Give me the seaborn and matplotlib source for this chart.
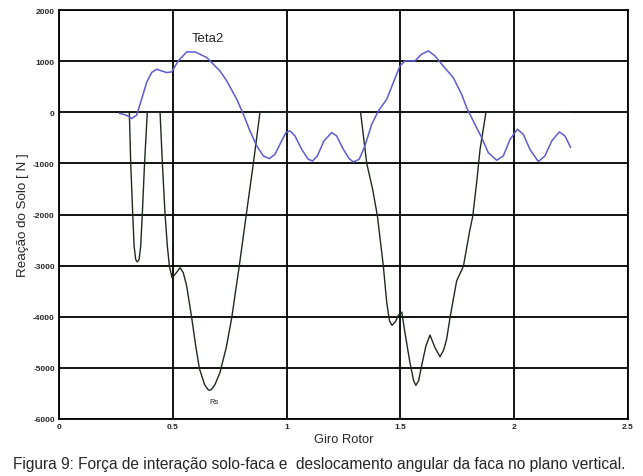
import numpy as np
import pandas as pd
import matplotlib
matplotlib.use("Agg")
import matplotlib.pyplot as plt
import seaborn as sns

# Rs curve (soil reaction)
rs_x = [0.27, 0.309, 0.315, 0.324, 0.330, 0.337, 0.344, 0.352, 0.359, 0.366,
        0.376, 0.388, 0.444, 0.454, 0.466, 0.476, 0.485, 0.4965, 0.510, 0.532,
        0.546, 0.561, 0.583, 0.600, 0.617, 0.640, 0.655, 0.663, 0.672, 0.685,
        0.707, 0.735, 0.759, 0.792, 0.822, 0.854, 0.883, 1.325, 1.352, 1.378,
        1.399, 1.425, 1.440, 1.452, 1.463, 1.478, 1.491, 1.506, 1.520, 1.542,
        1.558, 1.568, 1.580, 1.593, 1.612, 1.630, 1.652, 1.674, 1.690, 1.703,
        1.718, 1.747, 1.777, 1.803, 1.818, 1.835, 1.850, 1.876, 2.25]
rs_y = [0, 0, -985, -1996, -2616, -2880, -2929, -2880, -2616, -1996,
        -985, 0, 0, -985, -1996, -2616, -3008, -3236, -3171, -3041,
        -3138, -3399, -4018, -4550, -5016, -5330, -5425, -5440, -5410, -5330,
        -5094, -4600, -4018, -3008, -2029, -998, 0, 0, -998, -1507,
        -2029, -3008, -3725, -4080, -4168, -4100, -3973, -3908, -4312, -4899,
        -5250, -5342, -5250, -4964, -4573, -4358, -4605, -4781, -4650, -4442,
        -4018, -3301, -3008, -2355, -2029, -1376, -724, 0, 0]

# Teta2 curve (angular displacement, scaled)
teta_x = [0.265, 0.297, 0.319, 0.341, 0.363, 0.385, 0.407, 0.429, 0.451, 0.473,
          0.495, 0.524, 0.561, 0.598, 0.649, 0.707, 0.737, 0.781, 0.810, 0.839,
          0.869, 0.898, 0.924, 0.949, 0.978, 0.997, 1.015, 1.037, 1.066, 1.095,
          1.114, 1.135, 1.164, 1.198, 1.220, 1.249, 1.275, 1.293, 1.319, 1.344,
          1.374, 1.403, 1.440, 1.469, 1.498, 1.520, 1.564, 1.593, 1.623, 1.652,
          1.688, 1.732, 1.769, 1.791, 1.820, 1.857, 1.886, 1.923, 1.952, 1.982,
          2.014, 2.040, 2.069, 2.106, 2.135, 2.165, 2.198, 2.223, 2.248]
teta_y = [-20, -59, -124, -59, 254, 581, 777, 841, 808, 777,
          789, 1004, 1180, 1180, 1070, 808, 613, 254, -39, -365,
          -659, -855, -907, -822, -561, -398, -365, -463, -724, -920,
          -952, -855, -561, -398, -463, -724, -907, -972, -920, -659,
          -235, 25, 254, 581, 906, 1004, 1004, 1135, 1200, 1102,
          906, 679, 352, 92, -170, -496, -789, -939, -855, -528,
          -333, -431, -724, -965, -855, -561, -385, -463, -691]

x_ticks = [0, 0.5, 1, 1.5, 2, 2.5]
y_ticks = [2000, 1000, 0, -1000, -2000, -3000, -4000, -5000, -6000]

sns.set_style("white")
plt.rcParams['font.family'] = ['Liberation Sans', 'DejaVu Sans']

fig = plt.figure(figsize=(6.43, 4.77), dpi=100)
ax = fig.add_axes([59 / 643, 1 - 420 / 477, 569 / 643, 409 / 477])

rs = pd.DataFrame({'x': rs_x, 'y': rs_y})
teta = pd.DataFrame({'x': teta_x, 'y': teta_y})

sns.lineplot(data=rs, x='x', y='y', sort=False, color='#1e2a1e', lw=1.0, ax=ax, zorder=3)
sns.lineplot(data=teta, x='x', y='y', sort=False, color='#5c5cd0', lw=1.1, ax=ax, zorder=4)

ax.set_xlim(0, 2.5)
ax.set_ylim(-6000, 2000)
ax.set_xticks(x_ticks)
ax.set_xticklabels([f"{t:g}" for t in x_ticks])
ax.set_yticks(y_ticks)
ax.set_yticklabels([str(t) for t in y_ticks])
ax.tick_params(axis='both', length=0, labelsize=6, pad=3)
for lab in ax.get_xticklabels() + ax.get_yticklabels():
    lab.set_fontweight('bold')
ax.grid(True, color='black', lw=1.3)
ax.set_axisbelow(True)
for s in ax.spines.values():
    s.set_color('black')
    s.set_linewidth(1.3)

ax.set_xlabel('Giro Rotor', fontsize=9.3, labelpad=2)
ax.set_ylabel('Reação do Solo [ N ]', fontsize=9.6, labelpad=3)

ax.text(0.654, 1448, 'Teta2', fontsize=9.5, ha='center', va='center')
ax.text(0.68, -5655, 'Rs', fontsize=5.5, ha='center', va='center')

fig.text(13 / 643, 1 - 465 / 477,
         'Figura 9: Força de interação solo-faca e  deslocamento angular da faca no plano vertical.',
         fontsize=11.2, ha='left', va='center')

fig.savefig('out.png', dpi=100)
